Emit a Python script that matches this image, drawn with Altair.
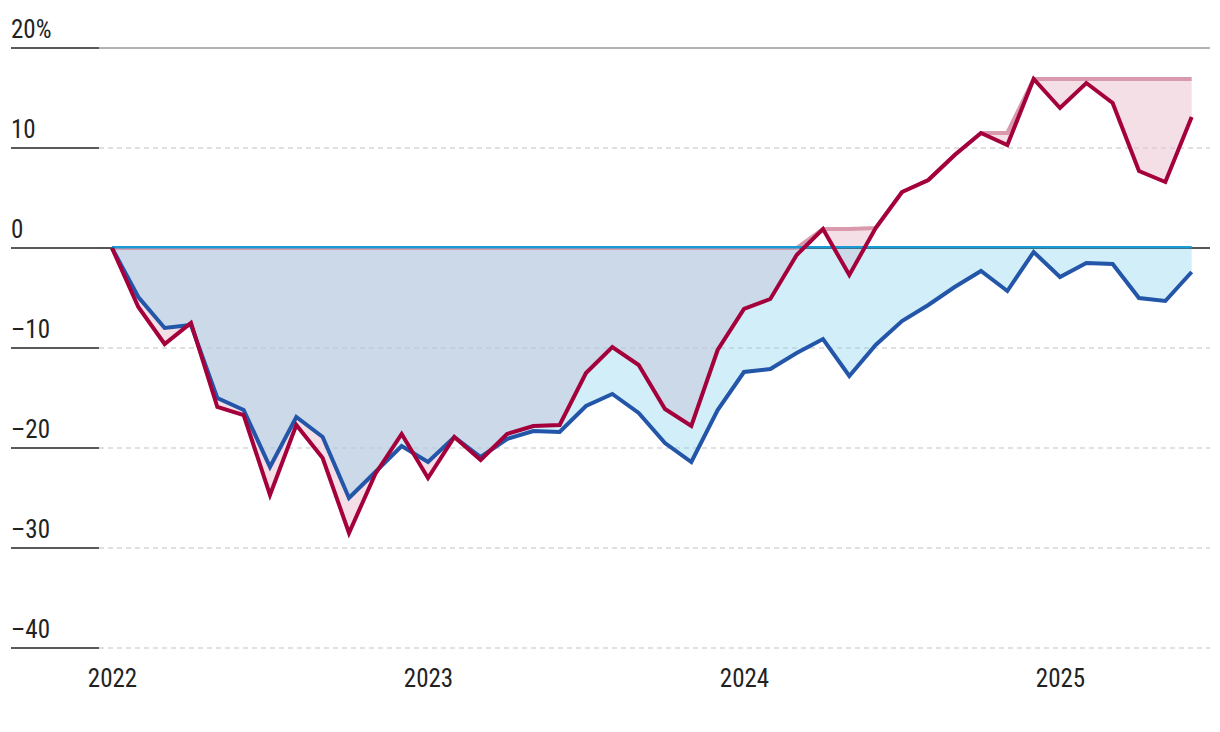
import altair as alt
import pandas as pd
import numpy as np

FONT = "Roboto Condensed, Liberation Sans Narrow, Roboto, sans-serif"
FS = 25

# Monthly observations, Jan 2022 .. Jun 2025 (percent change from start)
months = pd.date_range("2022-01-01", periods=42, freq="MS").strftime("%Y-%m").tolist()
red = [0.0, -5.9, -9.6, -7.5, -15.9, -16.7, -24.7, -17.7, -21.0, -28.5,
       -22.6, -18.6, -23.0, -18.9, -21.2, -18.6, -17.8, -17.7, -12.5, -9.9,
       -11.7, -16.1, -17.8, -10.2, -6.1, -5.1, -0.7, 1.9, -2.7, 2.0,
       5.6, 6.8, 9.3, 11.5, 10.3, 16.9, 14.0, 16.5, 14.5, 7.7,
       6.6, 13.1]
blue = [0.0, -4.9, -8.0, -7.7, -15.0, -16.2, -21.9, -16.9, -18.9, -25.0,
        -22.4, -19.8, -21.4, -18.9, -20.9, -19.1, -18.3, -18.4, -15.8, -14.6,
        -16.5, -19.5, -21.4, -16.2, -12.4, -12.1, -10.5, -9.1, -12.8, -9.7,
        -7.3, -5.7, -3.9, -2.3, -4.3, -0.4, -2.9, -1.5, -1.6, -5.0,
        -5.3, -2.4]
year_ticks = [2022, 2023, 2024, 2025]
y_ticks = [20, 10, 0, -10, -20, -30, -40]
y_labels = ["20%", "10", "0", "\u201310", "\u201320", "\u201330", "\u201340"]
dashed_grid = [10, -10, -20, -30, -40]

df = pd.DataFrame({"month": months, "red": red, "blue": blue})
df["t"] = [int(m[:4]) + (int(m[5:]) - 1) / 12 for m in months]
df["red_max"] = df["red"].cummax().clip(lower=0)
df["blue_max"] = df["blue"].cummax().clip(lower=0)

W, H = 1111, 600
xscale = alt.Scale(domain=[2021.9589, 2025.4747], nice=False, zero=False)
yscale = alt.Scale(domain=[-40, 20], nice=False, zero=False)

X = alt.X("t:Q", scale=xscale, title=None,
          axis=alt.Axis(values=year_ticks, format="d", ticks=False, tickSize=0,
                        domain=False, grid=False, labelFontSize=FS, labelFont=FONT,
                        labelColor="#222", labelPadding=18, labelFlush=False))

base = alt.Chart(df)

grid = alt.Chart(pd.DataFrame({"v": dashed_grid})).mark_rule(
    strokeDash=[5, 4], color="#e0e0e0", strokeWidth=2
).encode(y=alt.Y("v:Q", scale=yscale, axis=None), x=alt.value(0), x2=alt.value(W))

pink_area = base.mark_area(color="#ebbfcd", opacity=0.5).encode(
    x=X, y=alt.Y("red:Q", scale=yscale, axis=None), y2="red_max:Q")

blue_area = base.mark_area(color="#7ecfeb", opacity=0.35).encode(
    x=X, y=alt.Y("blue:Q", scale=yscale, axis=None), y2="blue_max:Q")

top_rule = alt.Chart(pd.DataFrame({"v": [20]})).mark_rule(color="#666", strokeWidth=1).encode(
    y=alt.Y("v:Q", scale=yscale, axis=None), x=alt.value(0), x2=alt.value(W))
zero_rule = alt.Chart(pd.DataFrame({"v": [0]})).mark_rule(color="#555", strokeWidth=2).encode(
    y=alt.Y("v:Q", scale=yscale, axis=None), x=alt.value(-88), x2=alt.value(W))

lab_df = pd.DataFrame({"v": y_ticks, "label": y_labels})
ticks = alt.Chart(lab_df).mark_rule(color="#5a5a5a", strokeWidth=2).encode(
    y=alt.Y("v:Q", scale=yscale, axis=None), x=alt.value(-88), x2=alt.value(0))
labels = alt.Chart(lab_df).mark_text(
    align="left", baseline="alphabetic", dy=-10, fontSize=FS, font=FONT, color="#222"
).encode(y=alt.Y("v:Q", scale=yscale, axis=None), x=alt.value(-88), text="label:N")

red_max_line = base.mark_line(color="#d99aae", strokeWidth=4).encode(
    x=X, y=alt.Y("red_max:Q", scale=yscale, axis=None))
blue_max_line = base.mark_line(color="#1a9ad2", strokeWidth=2.5, yOffset=-0.75).encode(
    x=X, y=alt.Y("blue_max:Q", scale=yscale, axis=None))
blue_line = base.mark_line(color="#2356a8", strokeWidth=4).encode(
    x=X, y=alt.Y("blue:Q", scale=yscale, axis=None))
red_line = base.mark_line(color="#a4003b", strokeWidth=4).encode(
    x=X, y=alt.Y("red:Q", scale=yscale, axis=None))

chart = alt.layer(
    grid, pink_area, blue_area, top_rule, zero_rule, ticks, labels,
    red_max_line, blue_max_line, blue_line, red_line
).properties(
    width=W, height=H,
    autosize=alt.AutoSizeParams(type="none"),
    padding={"left": 91, "top": 40, "right": 2, "bottom": 60},
).configure_view(stroke=None)

chart.save("out.html", embed_options={"renderer": "svg", "actions": False})
